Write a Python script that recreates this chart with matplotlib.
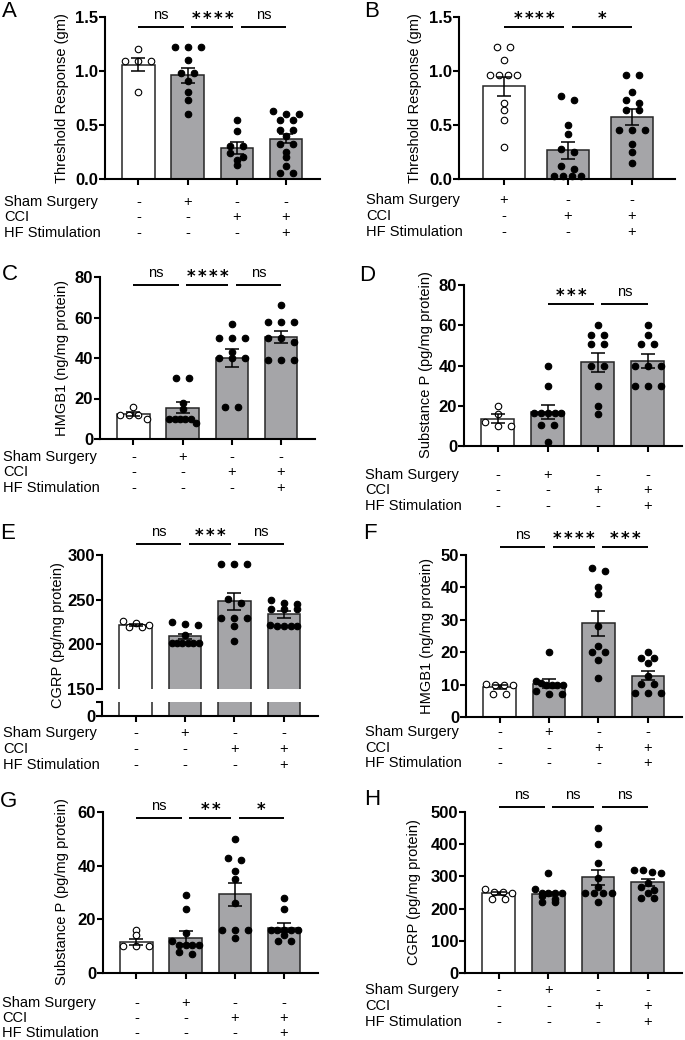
import numpy as np
import matplotlib
matplotlib.use("Agg")
import matplotlib.pyplot as plt
from matplotlib.transforms import blended_transform_factory

plt.rcParams['font.family'] = ['Liberation Sans', 'DejaVu Sans']

# ---------------- data ----------------
row_names = ["Sham Surgery", "CCI", "HF Stimulation"]
conds4 = [["-", "+", "-", "-"], ["-", "-", "+", "+"], ["-", "-", "-", "+"]]
conds3 = [["+", "-", "-"], ["-", "+", "+"], ["-", "-", "+"]]

A_means = [1.06, 0.96, 0.29, 0.375]
A_sems = [0.063, 0.072, 0.054, 0.046]
A_points = [[1.20, 1.09, 1.09, 1.09, 0.81],
            [1.22, 1.22, 1.22, 1.10, 0.98, 0.98, 0.91, 0.81, 0.73, 0.60],
            [0.55, 0.44, 0.31, 0.31, 0.24, 0.20, 0.18, 0.13],
            [0.63, 0.60, 0.60, 0.55, 0.55, 0.45, 0.45, 0.40, 0.32, 0.32, 0.25, 0.20, 0.12, 0.06, 0.06]]
A_sig = [(0, 1, "ns"), (1, 2, "****"), (2, 3, "ns")]

B_means = [0.86, 0.265, 0.57]
B_sems = [0.088, 0.078, 0.074]
B_points = [[1.22, 1.22, 1.10, 0.96, 0.96, 0.96, 0.96, 0.70, 0.64, 0.55, 0.30],
            [0.77, 0.73, 0.50, 0.42, 0.28, 0.25, 0.12, 0.09, 0.03, 0.03, 0.03, 0.03],
            [0.96, 0.96, 0.81, 0.73, 0.70, 0.64, 0.64, 0.45, 0.45, 0.45, 0.32, 0.25, 0.15]]
B_sig = [(0, 1, "****"), (1, 2, "*")]

C_means = [12.3, 15.4, 40.0, 50.5]
C_sems = [0.9, 2.7, 4.5, 3.0]
C_points = [[16, 12, 12, 12, 10],
            [30, 30, 18, 15, 10, 10, 10, 10, 10, 8],
            [57, 50, 50, 50, 43, 40, 40, 40, 16, 16],
            [66, 58, 58, 58, 50, 50, 48, 39, 39, 39]]
C_sig = [(0, 1, "ns"), (1, 2, "****"), (2, 3, "ns")]

D_means = [13.6, 17.1, 41.5, 42.3]
D_sems = [2.1, 3.5, 4.9, 3.6]
D_points = [[20, 16, 12, 10, 10],
            [40, 30, 16.5, 16.5, 16.5, 16.5, 16.5, 10.3, 10.3, 2],
            [60, 55, 55, 50.5, 50.5, 40, 40, 30, 20, 16],
            [60, 55, 50.5, 50.5, 40, 40, 40, 30, 30, 30]]
D_sig = [(1, 2, "***"), (2, 3, "ns")]

E_means = [222, 208.8, 248, 233.7]
E_sems = [1.2, 2.6, 9.8, 4.1]
E_points = [[226, 224, 222, 219, 219],
            [225, 223, 222, 211, 201, 201, 201, 201, 201, 201],
            [290, 290, 290, 251, 246, 230, 230, 230, 220, 204],
            [250, 246, 245, 240, 240, 240, 222, 220, 220, 220, 220]]
E_sig = [(0, 1, "ns"), (1, 2, "***"), (2, 3, "ns")]

F_means = [9.3, 10.3, 28.9, 12.8]
F_sems = [0.6, 1.3, 3.9, 1.5]
F_points = [[10.1, 10, 10, 10, 7.2, 7],
            [20, 11, 10.5, 10, 10, 10, 10, 8, 7, 7],
            [46, 45, 40, 38, 28, 22, 20, 20, 17.7, 12],
            [20, 18.2, 18.2, 16.7, 12.6, 10.1, 10.1, 7.4, 7.4, 7.4]]
F_sig = [(0, 1, "ns"), (1, 2, "****"), (2, 3, "***")]

G_means = [11.6, 13.1, 29.3, 16.8]
G_sems = [1.2, 2.4, 4.4, 1.7]
G_points = [[16, 14, 10, 10, 10],
            [29, 24, 15, 12, 10.4, 10.4, 10.4, 10.4, 8, 7],
            [50, 43, 42, 38, 35, 26, 16, 16, 16, 13],
            [28, 24, 16, 16, 16, 16, 16, 14, 12, 12]]
G_sig = [(0, 1, "ns"), (1, 2, "**"), (2, 3, "*")]

H_means = [247, 245, 297, 282]
H_sems = [5, 6, 24, 11]
H_points = [[261, 253, 253, 250, 230, 230],
            [312, 261, 250, 250, 250, 250, 240, 230, 221, 221],
            [450, 400, 343, 294, 266, 250, 247, 247, 247, 221],
            [320, 320, 315, 310, 280, 266, 258, 250, 232, 232]]
H_sig = [(0, 1, "ns"), (1, 2, "ns"), (2, 3, "ns")]

A_ylabel = "Threshold Response (gm)"
C_ylabel = "HMGB1 (ng/mg protein)"
D_ylabel = "Substance P (pg/mg protein)"
E_ylabel = "CGRP (pg/mg protein)"

# ---------------- style / layout ----------------
W, H = 685, 1040
fig = plt.figure(figsize=(W / 100, H / 100), dpi=100)
GRAY = "#a5a5a8"
EDGE = "#262626"
SPINE_LW = 1.5
FS = 10.5
TICK_FS = 12


def fx(px):
    return px / W


def fy(py):
    return 1 - py / H


def add_ax(l, r, t, b):
    return fig.add_axes([l / W, 1 - b / H, (r - l) / W, (b - t) / H])


def swarm(vals, ppu_y, ppu_x, tol=4.5, pitch=13.0, spread=27.0):
    vals = np.asarray(vals, float)
    order = np.argsort(-vals, kind="stable")
    offs = np.zeros(len(vals))
    clusters = []
    for idx in order:
        if clusters and (vals[clusters[-1][0]] - vals[idx]) * ppu_y < tol:
            clusters[-1].append(idx)
        else:
            clusters.append([idx])
    for cl in clusters:
        n = len(cl)
        p = pitch if n < 2 else min(pitch, spread / (n - 1))
        for k, idx in enumerate(cl):
            offs[idx] = (k - (n - 1) / 2) * p / ppu_x
    return offs


def style_axis(ax, ylim, yticks, fmt, xlim, n, show_x=True):
    ax.set_xlim(*xlim)
    ax.set_ylim(*ylim)
    for s in ["top", "right"]:
        ax.spines[s].set_visible(False)
    ax.spines["left"].set_linewidth(SPINE_LW)
    ax.spines["bottom"].set_linewidth(SPINE_LW)
    ax.set_yticks(yticks)
    ax.set_yticklabels([fmt.format(v) for v in yticks], fontweight="bold", fontsize=TICK_FS)
    ax.tick_params(axis="y", length=4, width=SPINE_LW, pad=1)
    if show_x:
        ax.set_xticks(np.arange(n))
        ax.tick_params(axis="x", length=4, width=SPINE_LW, labelbottom=False)
    else:
        ax.spines["bottom"].set_visible(False)
        ax.set_xticks([])


def draw_data(ax, means, sems, points, box, xlim, ylim):
    n = len(means)
    x = np.arange(n)
    colors = ["white"] + [GRAY] * (n - 1)
    ax.bar(x, means, width=0.66, color=colors, edgecolor=EDGE, linewidth=1.1, zorder=2)
    ppu_x = (box[1] - box[0]) / (xlim[1] - xlim[0])
    ppu_y = (box[3] - box[2]) / (ylim[1] - ylim[0])
    for i, pts in enumerate(points):
        offs = swarm(pts, ppu_y, ppu_x)
        fc = "white" if i == 0 else "black"
        ax.scatter(i + offs, pts, s=22, facecolor=fc, edgecolor="black",
                   linewidth=0.8, zorder=3, clip_on=False)
    ax.errorbar(x, means, yerr=sems, fmt="none", ecolor="black", elinewidth=1.1,
                capsize=5, capthick=1.1, zorder=4)
    return ppu_x, ppu_y


def draw_sig(ax, comps, y, ppu_x):
    trim = 3.8 / ppu_x
    for (i, j, lab) in comps:
        s = i + (trim if any(c[1] == i for c in comps) else 0)
        e = j - (trim if any(c[0] == j for c in comps) else 0)
        ax.plot([s, e], [y, y], color="black", lw=1.4, clip_on=False,
                solid_capstyle="butt", zorder=5)
        mid = (s + e) / 2
        if lab == "ns":
            ax.annotate(lab, xy=(mid, y), xytext=(0, 5.8), textcoords="offset points",
                        ha="center", va="baseline", fontsize=FS, annotation_clip=False)
        else:
            nst = len(lab)
            for k in range(nst):
                ax.annotate("*", xy=(mid, y), xytext=((k - (nst - 1) / 2) * 7.9, 2.2),
                            textcoords="offset points", ha="center", va="baseline",
                            fontsize=12, fontweight="bold", family="DejaVu Sans",
                            annotation_clip=False)


def draw_rows(ax, conds, rows_x, rows_y):
    tr = blended_transform_factory(ax.transData, fig.transFigure)
    for name, row, ry in zip(row_names, conds, rows_y):
        fig.text(fx(rows_x), fy(ry), name, ha="left", va="center", fontsize=FS)
        for i, sym in enumerate(row):
            ax.text(i, fy(ry), sym, transform=tr, ha="center", va="center", fontsize=FS)


def panel(letter, means, sems, points, comps, conds, ylabel, ylim, yticks, fmt,
          box, xlim, letter_pos, ylab_pos, rows_x, rows_y, sig_off):
    ax = add_ax(*box)
    style_axis(ax, ylim, yticks, fmt, xlim, len(means))
    ppu_x, ppu_y = draw_data(ax, means, sems, points, box, xlim, ylim)
    draw_sig(ax, comps, ylim[1] - sig_off / ppu_y, ppu_x)
    draw_rows(ax, conds, rows_x, rows_y)
    fig.text(fx(letter_pos[0]), fy(letter_pos[1]), letter, fontsize=16,
             ha="left", va="baseline")
    fig.text(fx(ylab_pos[0]), fy(ylab_pos[1]), ylabel, rotation=90,
             ha="center", va="center", fontsize=FS)
    return ax


X4 = (-0.68, 3.69)
panel("A", A_means, A_sems, A_points, A_sig, conds4, A_ylabel, (0, 1.5),
      [0, 0.5, 1.0, 1.5], "{:.1f}", (105, 320, 17, 179), X4, (2, 17), (62, 98),
      4, (202, 217, 233), 10)
panel("B", B_means, B_sems, B_points, B_sig, conds3, A_ylabel, (0, 1.5),
      [0, 0.5, 1.0, 1.5], "{:.1f}", (459, 675, 17, 179), (-0.70, 2.67), (364, 17),
      (415, 98), 366, (200, 216, 232), 10)
panel("C", C_means, C_sems, C_points, C_sig, conds4, C_ylabel, (0, 80),
      [0, 20, 40, 60, 80], "{:g}", (100, 315, 277, 439), X4, (2, 280), (62, 358),
      3, (457, 472, 488), 8.3)
panel("D", D_means, D_sems, D_points, D_sig, conds4, D_ylabel, (0, 80),
      [0, 20, 40, 60, 80], "{:g}", (464, 682, 285, 446), X4, (359, 281), (426, 365),
      365, (475, 490, 506), 19)
panel("F", F_means, F_sems, F_points, F_sig, conds4, C_ylabel, (0, 50),
      [0, 10, 20, 30, 40, 50], "{:g}", (466, 682, 555, 717), X4, (363, 539),
      (427, 636), 365, (732, 748, 763), -7.7)
panel("G", G_means, G_sems, G_points, G_sig, conds4, D_ylabel, (0, 60),
      [0, 20, 40, 60], "{:g}", (103, 318, 812, 973), X4, (0, 807), (62, 892),
      2, (1003, 1018, 1033), 6)
panel("H", H_means, H_sems, H_points, H_sig, conds4, E_ylabel, (0, 500),
      [0, 100, 200, 300, 400, 500], "{:g}", (465, 682, 812, 973), X4, (364, 805),
      (414, 892), 365, (990, 1006, 1022), -5)

# ---- panel E: broken axis ----
boxE_top = (102, 318, 555, 689)
boxE_bot = (102, 318, 702, 716)
axt = add_ax(*boxE_top)
style_axis(axt, (150, 300), [150, 200, 250, 300], "{:g}", X4, 4, show_x=False)
ppu_x, ppu_y = draw_data(axt, E_means, E_sems, E_points, boxE_top, X4, (150, 300))
draw_sig(axt, E_sig, 300 + 11 / ppu_y, ppu_x)
axb = add_ax(*boxE_bot)
style_axis(axb, (0, 30), [0, 30], "{:g}", X4, 4)
axb.set_yticklabels(["0", ""], fontweight="bold", fontsize=TICK_FS)
axb.bar(np.arange(4), E_means, width=0.66, color=["white"] + [GRAY] * 3,
        edgecolor=EDGE, linewidth=1.1, zorder=2)
draw_rows(axb, conds4, 3, (733, 749, 765))
fig.text(fx(0), fy(539), "E", fontsize=16, ha="left", va="baseline")
fig.text(fx(58), fy(635), E_ylabel, rotation=90, ha="center", va="center", fontsize=FS)

fig.savefig("out.png", dpi=100)
